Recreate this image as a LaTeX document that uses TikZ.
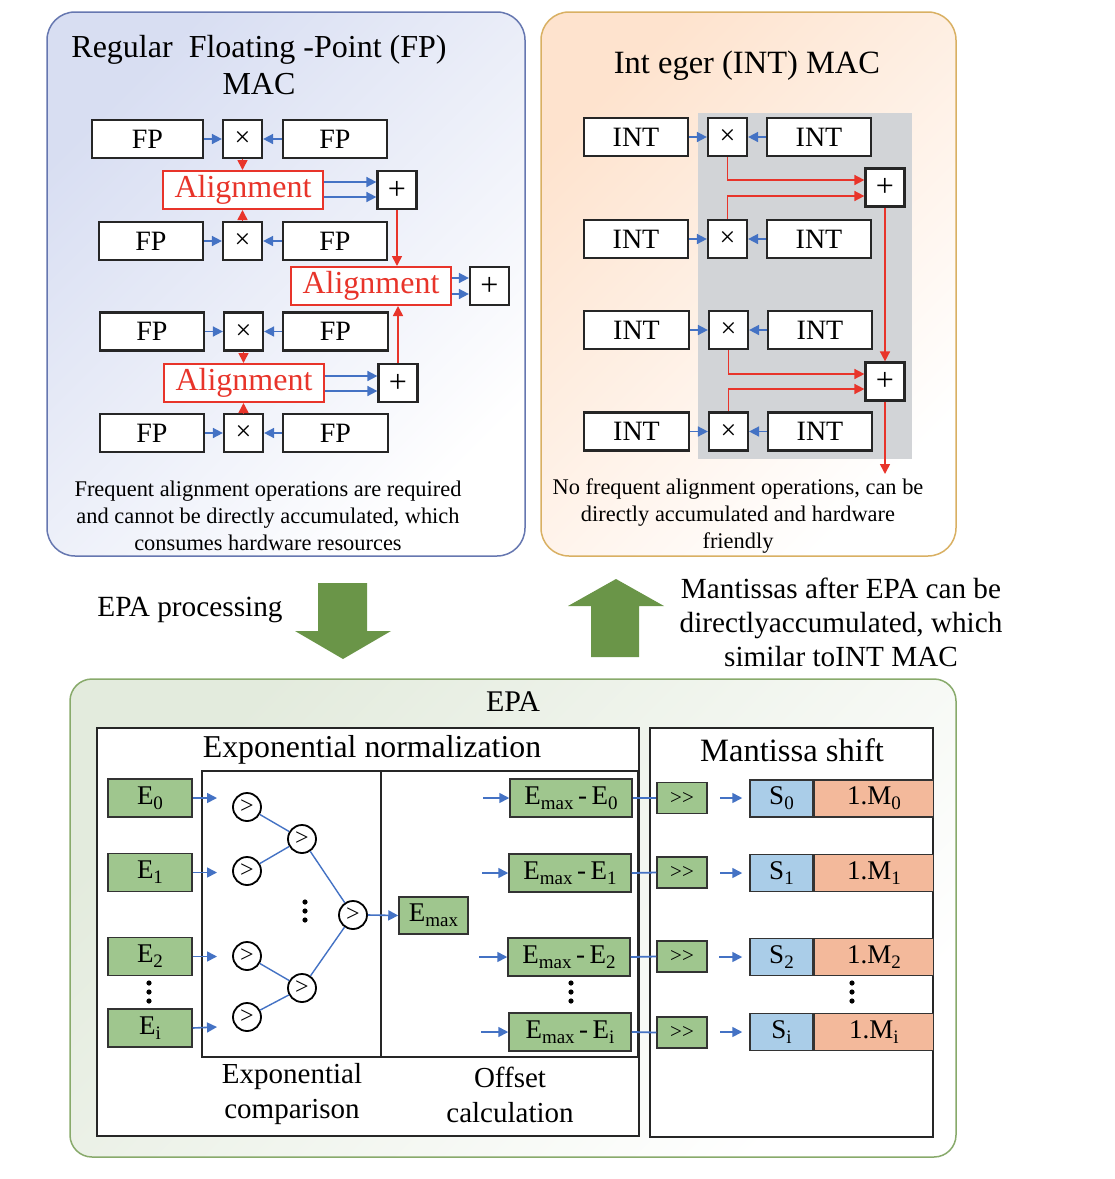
\documentclass[tikz,border=0pt]{standalone}
\usepackage{fontspec}
\setmainfont{Liberation Serif}
\usetikzlibrary{arrows.meta,calc}
\definecolor{bluec}{HTML}{4472C4}
\definecolor{redc}{HTML}{E8342A}
\definecolor{greenbox}{HTML}{9FC68E}
\definecolor{greenarrow}{HTML}{6A9548}
\definecolor{grayarea}{HTML}{D2D4D7}
\definecolor{sblue}{HTML}{AACDE8}
\definecolor{msalmon}{HTML}{F3B99B}
\definecolor{panelA}{HTML}{D8DEF2}
\definecolor{panelAb}{HTML}{6677B0}
\definecolor{panelB}{HTML}{FEE3CE}
\definecolor{panelBb}{HTML}{D9B063}
\definecolor{panelC}{HTML}{E3EBDD}
\definecolor{panelCb}{HTML}{88AA6B}
\newcommand{\sbs}[1]{\raisebox{-5pt}{\fontsize{19}{19}\selectfont #1}}
\begin{document}
\begin{tikzpicture}[x=1pt,y=-1pt,
  blk/.style={draw=black!85, line width=2.2pt, fill=white, inner sep=0pt, minimum height=38pt},
  fpbox/.style={blk, font=\fontsize{28}{28}\selectfont},
  opbox/.style={blk, minimum width=39pt},
  mulbox/.style={opbox, font=\fontsize{28}{28}\selectfont},
  addbox/.style={opbox, font=\fontsize{32}{32}\selectfont},
  alignbox/.style={draw=redc, line width=2pt, fill=white, text=redc, inner sep=0pt, minimum width=160pt, minimum height=38pt, font=\fontsize{32}{32}\selectfont},
  barrow/.style={draw=bluec, line width=1.6pt, -{Triangle[length=10pt,width=10pt]}},
  rarrow/.style={draw=redc, line width=1.6pt, -{Triangle[length=10pt,width=10pt]}},
  bline/.style={draw=bluec, line width=1.4pt},
  gbox/.style={draw=black!80, line width=1.5pt, fill=greenbox, inner sep=0pt, minimum height=38pt, font=\fontsize{27}{27}\selectfont},
  shbox/.style={draw=black!80, line width=1.5pt, fill=greenbox, inner sep=0pt, minimum width=50pt, minimum height=31pt, font=\fontsize{21}{21}\selectfont},
  sbox/.style={draw=black!80, line width=1.5pt, fill=sblue, inner sep=0pt, minimum width=63pt, minimum height=37pt, font=\fontsize{27}{27}\selectfont},
  mbox/.style={draw=black!80, line width=1.5pt, fill=msalmon, inner sep=0pt, minimum width=119pt, minimum height=37pt, font=\fontsize{27}{27}\selectfont},
  cmp/.style={circle, draw=black, line width=1.8pt, fill=white, minimum size=28pt, inner sep=0pt, font=\fontsize{24}{24}\selectfont},
  frame/.style={draw=black!85, line width=2.2pt},
  bigarrow/.style={fill=greenarrow, draw=none},
]
\useasboundingbox (0,0) rectangle (1115,1179);

% ---------------- panels ----------------
\draw[panelAb, line width=1.5pt, rounded corners=28pt, top color=panelA, bottom color=white, shading angle=45] (47,12) rectangle (525,556);
\draw[panelBb, line width=1.5pt, rounded corners=28pt, top color=panelB, bottom color=white, shading angle=45] (541,12) rectangle (956,556);
\draw[panelCb, line width=1.5pt, rounded corners=22pt, top color=panelC, bottom color=white, shading angle=45] (70,679) rectangle (956,1157);

% ---------------- FP MAC ----------------
\node[align=center, font=\fontsize{32}{37}\selectfont] (fptitle) at (259,65) {Regular\ \ Floating -Point (FP)\\MAC};

\node[fpbox, minimum width=111pt] (fa1) at (147.5,139) {FP};
\node[mulbox] (fx1) at (242.5,139) {×};
\node[fpbox, minimum width=104pt] (fb1) at (335,139) {FP};
\node[alignbox] (al1) at (243,190) {Alignment};
\node[addbox] (fp1) at (397,190) {+};
\node[fpbox, minimum width=104pt] (fa2) at (151,241) {FP};
\node[mulbox] (fx2) at (242.5,241) {×};
\node[fpbox, minimum width=104pt] (fb2) at (335,241) {FP};
\node[alignbox] (al2) at (371,286) {Alignment};
\node[addbox] (fp2) at (489.5,286) {+};
\node[fpbox, minimum width=104pt] (fa3) at (152,331.5) {FP};
\node[mulbox] (fx3) at (243.5,331.5) {×};
\node[fpbox, minimum width=105pt] (fb3) at (335.5,331.5) {FP};
\node[alignbox] (al3) at (244,383) {Alignment};
\node[addbox] (fp3) at (398,383) {+};
\node[fpbox, minimum width=104pt] (fa4) at (152,433) {FP};
\node[mulbox] (fx4) at (243.5,433) {×};
\node[fpbox, minimum width=105pt] (fb4) at (335.5,433) {FP};

\foreach \i in {1,2,3,4}{
  \draw[barrow] (fa\i.east) -- (fx\i.west);
  \draw[barrow] (fb\i.west) -- (fx\i.east);
}
\draw[rarrow] (fx1.south) -- (fx1.south |- al1.north);
\draw[rarrow] (fx2.north) -- (fx2.north |- al1.south);
\draw[rarrow] (fx3.south) -- (fx3.south |- al3.north);
\draw[rarrow] (fx4.north) -- (fx4.north |- al3.south);
\draw[barrow] ([yshift=8pt]al1.east) -- ([yshift=8pt]al1.east -| fp1.west);
\draw[barrow] ([yshift=-7pt]al1.east) -- ([yshift=-7pt]al1.east -| fp1.west);
\draw[barrow] ([yshift=8pt]al2.east) -- ([yshift=8pt]al2.east -| fp2.west);
\draw[barrow] ([yshift=-8pt]al2.east) -- ([yshift=-8pt]al2.east -| fp2.west);
\draw[barrow] ([yshift=7pt]al3.east) -- ([yshift=7pt]al3.east -| fp3.west);
\draw[barrow] ([yshift=-8pt]al3.east) -- ([yshift=-8pt]al3.east -| fp3.west);
\draw[rarrow] (fp1.south) -- (fp1.south |- al2.north);
\draw[rarrow] (fp3.north) -- (fp3.north |- al2.south);

\node[align=center, font=\fontsize{22.4}{27}\selectfont] (fptext) at (268,516) {Frequent alignment operations are required\\and cannot be directly accumulated, which\\consumes hardware resources};

% ---------------- INT MAC ----------------
\node[font=\fontsize{32.5}{32.5}\selectfont] (inttitle) at (747,66) {Int eger (INT) MAC};
\fill[grayarea] (698,113) rectangle (912,459);

\node[fpbox, minimum width=104pt] (ia1) at (636,137) {INT};
\node[mulbox] (ix1) at (727.5,137) {×};
\node[fpbox, minimum width=104pt] (ib1) at (819,137) {INT};
\node[fpbox, minimum width=104pt] (ia2) at (636,239) {INT};
\node[mulbox] (ix2) at (727.5,239) {×};
\node[fpbox, minimum width=104pt] (ib2) at (819,239) {INT};
\node[fpbox, minimum width=105pt] (ia3) at (636.5,330) {INT};
\node[mulbox] (ix3) at (728.5,330) {×};
\node[fpbox, minimum width=104pt] (ib3) at (820,330) {INT};
\node[fpbox, minimum width=105pt] (ia4) at (636.5,431.5) {INT};
\node[mulbox] (ix4) at (728.5,431.5) {×};
\node[fpbox, minimum width=104pt] (ib4) at (820,431.5) {INT};
\node[addbox] (ip1) at (885,187.5) {+};
\node[addbox] (ip2) at (885,381.5) {+};
\coordinate (iout) at (885,474);

\foreach \i in {1,2,3,4}{
  \draw[barrow] (ia\i.east) -- (ix\i.west);
  \draw[barrow] (ib\i.west) -- (ix\i.east);
}
\draw[rarrow] (ix1.south) |- ([yshift=7.5pt]ip1.west);
\draw[rarrow] (ix2.north) |- ([yshift=-8.5pt]ip1.west);
\draw[rarrow] (ix3.south) |- ([yshift=7.5pt]ip2.west);
\draw[rarrow] (ix4.north) |- ([yshift=-7.5pt]ip2.west);
\draw[rarrow] (ip1.south) -- (ip2.north);
\draw[rarrow] (ip2.south) -- (iout);

\node[align=center, font=\fontsize{22.4}{27}\selectfont] (inttext) at (738,516) {No frequent alignment operations, can be\\directly accumulated and hardware\\friendly};

% ---------------- middle arrows ----------------
\node[font=\fontsize{29.3}{29.3}\selectfont] (epaproc) at (190,610) {EPA processing};
\fill[bigarrow] (318,583) -- (367,583) -- (367,631) -- (391,631) -- (343,659) -- (295,631) -- (318,631) -- cycle;
\fill[bigarrow] (591,657) -- (639,657) -- (639,606) -- (664,606) -- (616,579) -- (568,606) -- (591,606) -- cycle;
\node[align=center, font=\fontsize{29.2}{34}\selectfont] (mantext) at (841,622) {Mantissas after EPA can be\\directlyaccumulated, which\\similar toINT MAC};

% ---------------- EPA ----------------
\node[font=\fontsize{30}{30}\selectfont] (epatitle) at (513,702) {EPA};
\draw[frame, fill=white] (97,728) rectangle (639,1136);
\draw[frame, line width=2pt] (202,771) rectangle (381,1057);
\draw[frame, line width=2pt] (381,771) rectangle (638,1057);
\draw[frame, fill=white] (650,728) rectangle (933,1137);
\node[font=\fontsize{31.8}{31.8}\selectfont] (expnorm) at (372,750) {Exponential normalization};
\node[font=\fontsize{32.6}{32.6}\selectfont] (mshift) at (792,750) {Mantissa shift};
\node[align=center, font=\fontsize{29}{35}\selectfont] (expcmp) at (292,1094) {Exponential\\comparison};
\node[align=center, font=\fontsize{29}{35}\selectfont] (offcalc) at (510,1095) {Offset\\calculation};

% exponent inputs
\node[gbox, minimum width=84pt] (E0) at (150,798) {E\sbs{0}};
\node[gbox, minimum width=84pt] (E1) at (150,872.5) {E\sbs{1}};
\node[gbox, minimum width=84pt] (E2) at (150,956.5) {E\sbs{2}};
\node[gbox, minimum width=84pt] (Ei) at (150,1028) {E\sbs{i}};
\coordinate (e0t) at (217,798);
\coordinate (e1t) at (217,872.5);
\coordinate (e2t) at (217,956.5);
\coordinate (eit) at (217,1027);
\draw[barrow] (E0.east) -- (e0t);
\draw[barrow] (E1.east) -- (e1t);
\draw[barrow] (E2.east) -- (e2t);
\draw[barrow] (Ei.east) -- (eit);

% comparators
\node[cmp] (c1) at (247,807) {>};
\node[cmp] (c2) at (302,839) {>};
\node[cmp] (c3) at (247,871) {>};
\node[cmp] (c4) at (247,956) {>};
\node[cmp] (c5) at (302,988) {>};
\node[cmp] (c6) at (247,1017) {>};
\node[cmp] (cf) at (353,915) {>};
\draw[bline] (c1) -- (c2);
\draw[bline] (c3) -- (c2);
\draw[bline] (c2) -- (cf);
\draw[bline] (c4) -- (c5);
\draw[bline] (c6) -- (c5);
\draw[bline] (c5) -- (cf);
\node[gbox, minimum width=69pt, minimum height=37pt] (Emax) at (433.5,915.5) {E\sbs{max}};
\draw[barrow] (cf.east) -- (Emax.west);

% offsets
\node[gbox, minimum width=122pt] (D0) at (571,798) {E\sbs{max}\,-\,E\sbs{0}};
\node[gbox, minimum width=122pt] (D1) at (570,873) {E\sbs{max}\,-\,E\sbs{1}};
\node[gbox, minimum width=122pt] (D2) at (569,957) {E\sbs{max}\,-\,E\sbs{2}};
\node[gbox, minimum width=122pt] (Di) at (570,1032) {E\sbs{max}\,-\,E\sbs{i}};
\coordinate (d0s) at (483,798);
\coordinate (d1s) at (482,873);
\coordinate (d2s) at (479,957);
\coordinate (dis) at (481,1032);
\draw[barrow] (d0s) -- (D0.west);
\draw[barrow] (d1s) -- (D1.west);
\draw[barrow] (d2s) -- (D2.west);
\draw[barrow] (dis) -- (Di.west);

% shifts
\node[shbox] (H0) at (682,798) {{>}{>}};
\node[shbox] (H1) at (682,872.5) {{>}{>}};
\node[shbox] (H2) at (682,956.5) {{>}{>}};
\node[shbox] (Hi) at (682,1032.5) {{>}{>}};
\draw[bline, line width=1.8pt] (D0.east) -- (H0.west);
\draw[bline, line width=1.8pt] (D1.east) -- (H1.west);
\draw[bline, line width=1.8pt] (D2.east) -- (H2.west);
\draw[bline, line width=1.8pt] (Di.east) -- (Hi.west);

\node[sbox] (S0) at (781.5,798.5) {S\sbs{0}};
\node[sbox] (S1) at (781.5,873) {S\sbs{1}};
\node[sbox] (S2) at (781.5,957) {S\sbs{2}};
\node[sbox] (Si) at (781.5,1032) {S\sbs{i}};
\node[mbox, anchor=west] (M0) at (S0.east) {1.M\sbs{0}};
\node[mbox, anchor=west] (M1) at (S1.east) {1.M\sbs{1}};
\node[mbox, anchor=west] (M2) at (S2.east) {1.M\sbs{2}};
\node[mbox, anchor=west] (Mi) at (Si.east) {1.M\sbs{i}};
\coordinate (s0s) at (720,798);
\coordinate (s1s) at (720,873);
\coordinate (s2s) at (719,957);
\coordinate (sis) at (720,1032);
\draw[barrow, shorten >=7pt] (s0s) -- (S0.west |- s0s);
\draw[barrow, shorten >=7pt] (s1s) -- (S1.west |- s1s);
\draw[barrow, shorten >=7pt] (s2s) -- (S2.west |- s2s);
\draw[barrow, shorten >=7pt] (sis) -- (Si.west |- sis);

% vertical dots
\foreach \x/\y in {305/902, 149/983, 571/983, 852/983}{
  \foreach \k in {0,1,2}{
    \fill (\x,\y+\k*9) circle (2.6pt);
  }
}
\end{tikzpicture}
\end{document}
